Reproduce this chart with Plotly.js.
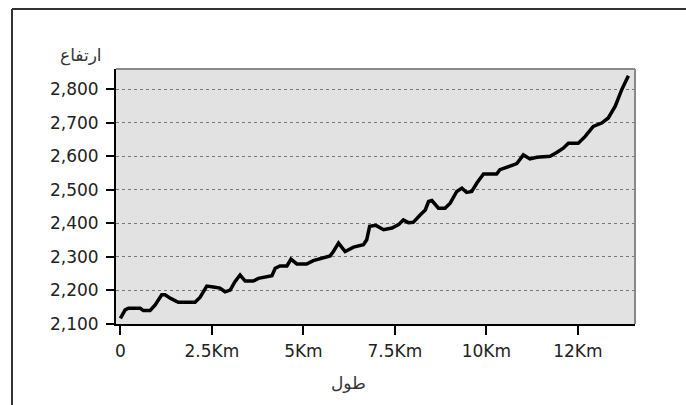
<!DOCTYPE html>
<html>
<head>
<meta charset="utf-8">
<script src="https://cdn.plot.ly/plotly-3.0.1.min.js"></script>
<style>
html,body{margin:0;padding:0;background:#fff;}
#chart{width:686px;height:405px;}
</style>
</head>
<body>
<div id="chart"></div>
<script>
// distance along route (km)
const distanceKm = [0, 0.13, 0.22, 0.54, 0.63, 0.81, 0.95, 1.13, 1.22, 1.36, 1.58, 2.04, 2.18, 2.36, 2.54, 2.72, 2.86, 3.0, 3.13, 3.27, 3.41, 3.63, 3.77, 3.95, 4.14, 4.23, 4.36, 4.55, 4.66, 4.82, 5.09, 5.27, 5.5, 5.73, 5.82, 5.96, 6.14, 6.37, 6.64, 6.73, 6.81, 6.98, 7.19, 7.42, 7.6, 7.73, 7.87, 8.0, 8.19, 8.33, 8.42, 8.51, 8.69, 8.87, 9.01, 9.19, 9.33, 9.46, 9.6, 9.74, 9.92, 10.28, 10.37, 10.6, 10.83, 11.01, 11.19, 11.38, 11.74, 11.92, 12.1, 12.24, 12.51, 12.7, 12.92, 13.15, 13.33, 13.52, 13.7, 13.88];
// elevation (m)
const elevation = [2117, 2142, 2147, 2147, 2140, 2140, 2157, 2187, 2187, 2177, 2165, 2165, 2180, 2213, 2210, 2207, 2196, 2201, 2226, 2246, 2228, 2228, 2236, 2241, 2244, 2266, 2273, 2273, 2293, 2279, 2279, 2289, 2295, 2303, 2316, 2341, 2316, 2329, 2336, 2351, 2391, 2394, 2381, 2386, 2396, 2410, 2402, 2403, 2425, 2440, 2465, 2468, 2445, 2445, 2460, 2495, 2505, 2492, 2495, 2520, 2547, 2547, 2560, 2570, 2578, 2604, 2592, 2597, 2600, 2611, 2624, 2639, 2639, 2659, 2689, 2699, 2714, 2749, 2799, 2840];
const xTickVals = [0, 2.5, 5, 7.5, 10, 12.5];
const xTickText = ['0', '2.5Km', '5Km', '7.5Km', '10Km', '12Km'];
const yTickVals = [2100, 2200, 2300, 2400, 2500, 2600, 2700, 2800];
const xTitle = 'طول';
const yTitle = 'ارتفاع';

const font = {family: 'DejaVu Sans, sans-serif', size: 17, color: '#222'};
const titleFont = {family: 'DejaVu Sans, sans-serif', size: 17, color: '#333'};

const trace = {
  x: distanceKm, y: elevation, type: 'scatter', mode: 'lines',
  line: {color: '#000', width: 3.5, shape: 'linear'},
  hoverinfo: 'x+y'
};

const layout = {
  width: 686, height: 405,
  margin: {l: 116, r: 51, t: 69, b: 81, pad: 0},
  paper_bgcolor: '#fff',
  plot_bgcolor: '#e2e2e2',
  showlegend: false,
  font: font,
  xaxis: {
    range: [-0.12, 14.06],
    tickvals: xTickVals, ticktext: xTickText,
    ticks: 'outside', ticklen: 9, tickwidth: 2, tickcolor: '#000',
    showline: true, linecolor: '#000', linewidth: 2,
    showgrid: false, zeroline: false,
    tickfont: font,
    ticklabelstandoff: 2
  },
  yaxis: {
    range: [2100, 2860],
    tickvals: yTickVals, tickformat: ',d',
    ticks: 'outside', ticklen: 8, tickwidth: 2, tickcolor: '#000',
    showline: true, linecolor: '#000', linewidth: 2,
    showgrid: true, gridcolor: '#777', gridwidth: 1, griddash: 'dot',
    zeroline: false,
    tickfont: font,
    ticklabelstandoff: 4
  },
  shapes: [
    // grey border on top and right of plot area
    {type: 'line', xref: 'paper', yref: 'paper', x0: 0, x1: 1, y0: 1, y1: 1, line: {color: '#8a8a8a', width: 2}},
    {type: 'line', xref: 'paper', yref: 'paper', x0: 1, x1: 1, y0: 0, y1: 1, line: {color: '#8a8a8a', width: 2}},
    // outer frame (left and top)
    {type: 'line', xref: 'paper', yref: 'paper', x0: -0.2004, x1: -0.2004, y0: -0.4, y1: 1.2353, line: {color: '#333', width: 2}},
    {type: 'line', xref: 'paper', yref: 'paper', x0: -0.2004, x1: 1.2, y0: 1.2353, y1: 1.2353, line: {color: '#333', width: 2}}
  ],
  annotations: [
    {text: yTitle, xref: 'paper', yref: 'paper', x: (81 - 116) / 519, y: (324 - 56) / 255,
     xanchor: 'center', yanchor: 'middle', showarrow: false, font: titleFont},
    {text: xTitle, xref: 'paper', yref: 'paper', x: (348 - 116) / 519, y: (324 - 383) / 255,
     xanchor: 'center', yanchor: 'middle', showarrow: false, font: titleFont}
  ]
};

Plotly.newPlot('chart', [trace], layout, {displayModeBar: false, staticPlot: true});
</script>
</body>
</html>
